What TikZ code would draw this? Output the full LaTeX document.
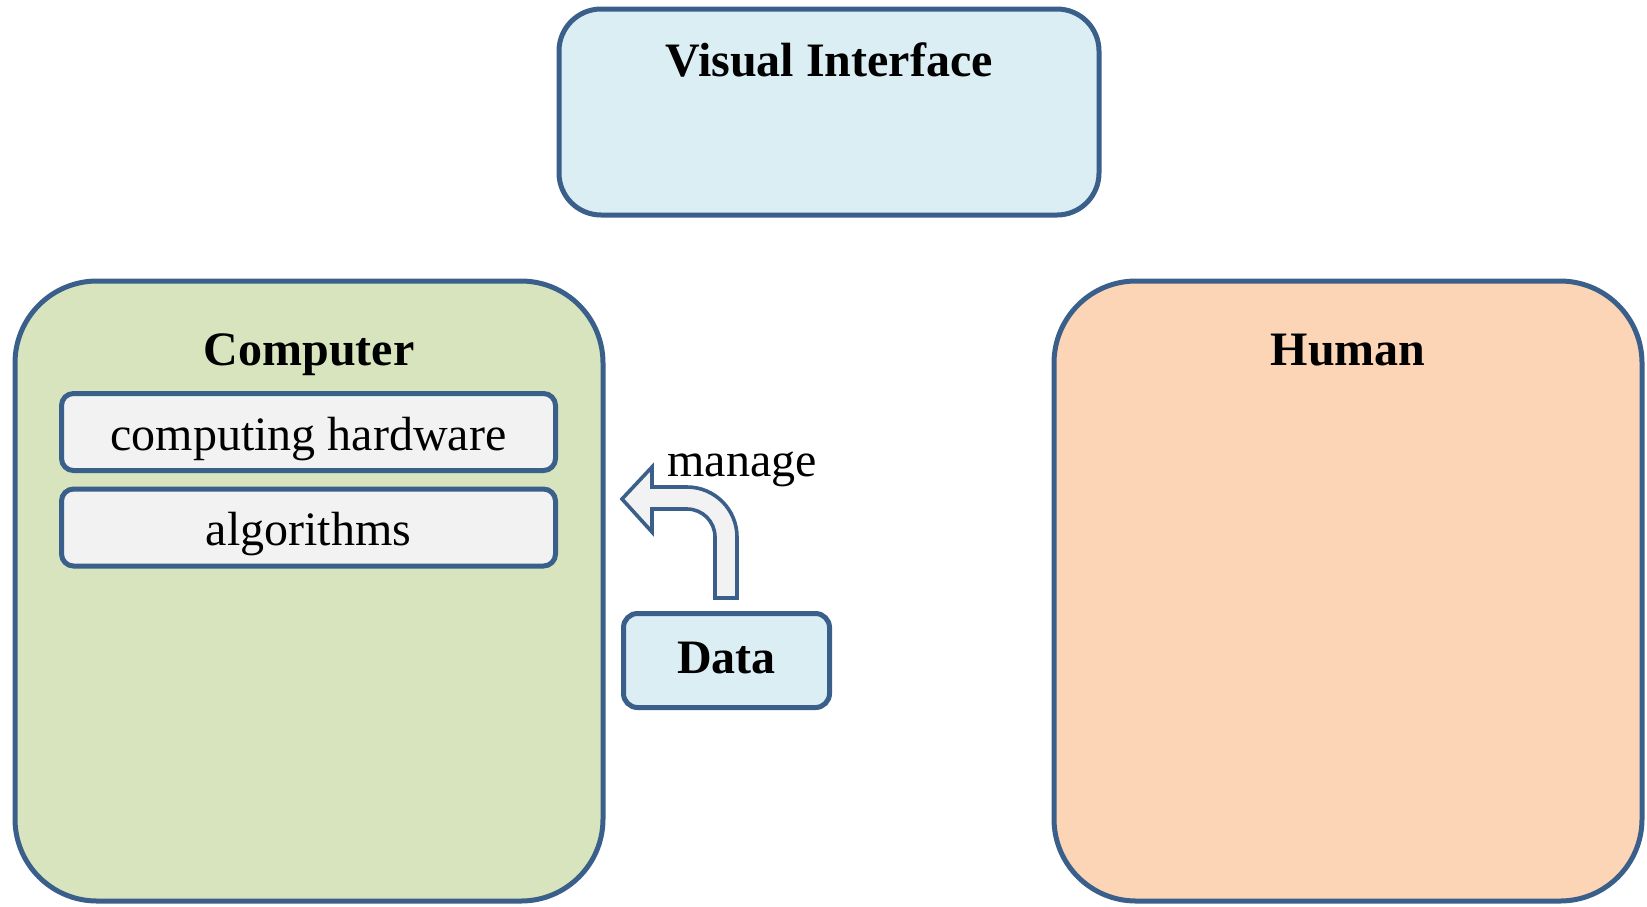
\documentclass[tikz,border=0pt]{standalone}
\usepackage{fontspec}
\setmainfont{Liberation Serif}
\begin{document}
\begin{tikzpicture}[x=0.5pt,y=-0.5pt,
  bord/.style={draw=bordc,line width=2.5pt,inner sep=0pt,outer sep=0pt},
  bigbox/.style={bord,rectangle,rounded corners=41pt,minimum width=294pt,minimum height=310pt},
  subbox/.style={bord,rectangle,rounded corners=6pt,fill=subc,minimum width=247pt,minimum height=38.5pt},
  ttl/.style={anchor=base,font=\fontsize{24}{28}\selectfont\bfseries,inner sep=0pt},
  txt/.style={anchor=base,font=\fontsize{24}{28}\selectfont,inner sep=0pt}]
\definecolor{bordc}{HTML}{3A5F8B}
\definecolor{vic}{HTML}{DAEEF3}
\definecolor{compc}{HTML}{D7E4BD}
\definecolor{humc}{HTML}{FBD5B5}
\definecolor{subc}{HTML}{F2F2F2}
\useasboundingbox (0,0) rectangle (1647,906);
% boxes
\node[bord,rectangle,rounded corners=21pt,fill=vic,minimum width=270pt,minimum height=103pt] (vi) at (829,112) {};
\node[bigbox,fill=compc] (comp) at (309,591) {};
\node[bigbox,fill=humc] (hum) at (1348,591) {};
\node[subbox] (chw) at (308.5,432) {};
\node[subbox] (alg) at (308.5,527.5) {};
\node[bord,rectangle,rounded corners=7pt,fill=vic,minimum width=103pt,minimum height=47pt] (data) at (726.5,660.5) {};
% texts
\node[ttl] (vit) at (829,76) {Visual Interface};
\node[ttl] (compt) at (309,365) {Computer};
\node[ttl] (humt) at (1348,365) {Human};
\node[txt] (chwt) at (308.5,450) {computing hardware};
\node[txt] (algt) at (308.5,545) {algorithms};
\node[ttl] (datat) at (726.5,673) {Data};
\node[txt] (manage) at (742,476) {manage};
% block arrow from Data to Computer
\coordinate (ab1) at (737,598);
\coordinate (ac1) at (737,487);
\coordinate (ah1) at (652,487);
\coordinate (ah2) at (652,467);
\coordinate (tip) at (622,499);
\coordinate (ah3) at (652,532);
\coordinate (ah4) at (652,509);
\coordinate (ac2) at (715,509);
\coordinate (ab2) at (715,598);
\draw[draw=bordc,fill=subc,line width=1.8pt,line join=miter]
  (ab1) [rounded corners=25pt] -- (ac1) [sharp corners] -- (ah1) -- (ah2) -- (tip) -- (ah3) -- (ah4)
  [rounded corners=14pt] -- (ac2) [sharp corners] -- (ab2) -- cycle;
\end{tikzpicture}
\end{document}
